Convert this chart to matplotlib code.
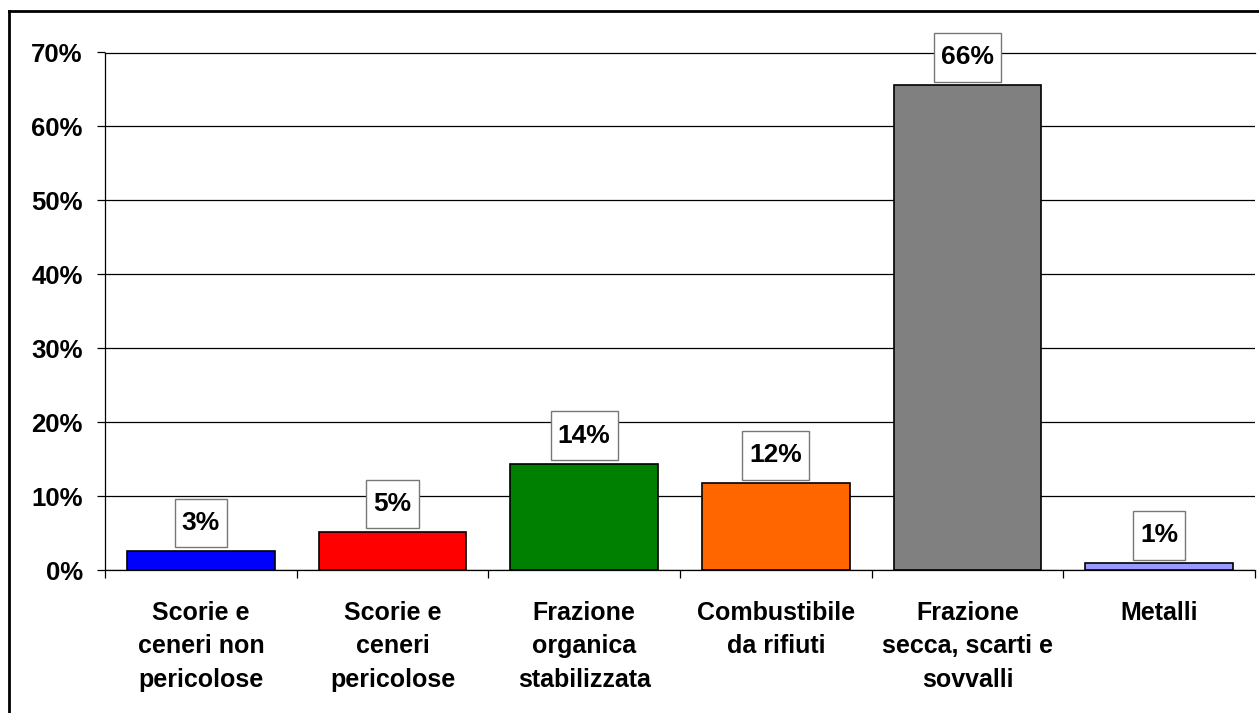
import matplotlib.pyplot as plt
from matplotlib.lines import Line2D
from matplotlib.path import Path
from matplotlib.ticker import FuncFormatter, MultipleLocator
import numpy as np

categories = ['Scorie e\nceneri non\npericolose',
              'Scorie e\nceneri\npericolose',
              'Frazione\norganica\nstabilizzata',
              'Combustibile\nda rifiuti',
              'Frazione\nsecca, scarti e\nsovvalli',
              'Metalli']
values = [0.0257, 0.0514, 0.144, 0.1175, 0.6556, 0.0092]
colors = ['#0000FF', '#FF0000', '#008000', '#FF6600', '#808080', '#9999FF']

plt.rcParams['font.family'] = ['Liberation Sans', 'DejaVu Sans']
plt.rcParams['font.weight'] = 'bold'


def label_box(x0, y0, width, height, mutation_size):
    # excel-like label box: more room above/below than at the sides
    px = 0.27 * mutation_size
    py = 0.47 * mutation_size
    x0, y0 = x0 - px, y0 - py
    x1, y1 = x0 + width + 2 * px, y0 + height + 2 * py
    return Path([(x0, y0), (x1, y0), (x1, y1), (x0, y1), (x0, y0)], closed=True)


fig = plt.figure(figsize=(12.59, 7.13), dpi=100)
ax = fig.add_axes([105 / 1259, 1 - 570 / 713, 1150 / 1259, (570 - 52.5) / 713])

x = np.arange(len(categories))
ax.bar(x, values, width=0.77, color=colors, edgecolor='black', linewidth=1.2, zorder=3)

for xi, v in zip(x, values):
    ax.annotate(f'{v:.0%}', (xi, v), xytext=(0, 11.5), textcoords='offset points',
                ha='center', va='bottom', fontsize=19, fontweight='bold',
                bbox=dict(boxstyle=label_box, fc='white', ec='#777777', lw=1),
                zorder=4)

ax.set_xlim(-0.5, len(categories) - 0.5)
ax.set_ylim(0, 0.70)
ax.yaxis.set_major_locator(MultipleLocator(0.1))
ax.yaxis.set_major_formatter(FuncFormatter(lambda y, _: f'{y:.0%}'))
ax.grid(axis='y', color='black', linewidth=0.9, zorder=0)
ax.set_axisbelow(True)

ax.set_xticks(x)
ax.set_xticklabels(categories, fontsize=18, fontweight='bold', linespacing=1.5)
ax.set_xticks(np.arange(-0.5, len(categories)), minor=True)
ax.tick_params(axis='x', which='major', length=0, pad=22)
ax.tick_params(axis='x', which='minor', length=6, width=0.9, color='black')
ax.tick_params(axis='y', length=6, width=0.9, pad=10, labelsize=18.5)

ax.spines['right'].set_visible(False)
for side in ['left', 'bottom', 'top']:
    ax.spines[side].set_linewidth(0.9)

# outer chart frame (only top and left edges are inside the picture)
fig.add_artist(Line2D([8.5 / 1259, 8.5 / 1259], [0, 1 - 11 / 713], color='black', lw=2,
                      transform=fig.transFigure))
fig.add_artist(Line2D([8.5 / 1259, 1], [1 - 11 / 713, 1 - 11 / 713], color='black', lw=2,
                      transform=fig.transFigure))

fig.savefig('out.png', dpi=100)
